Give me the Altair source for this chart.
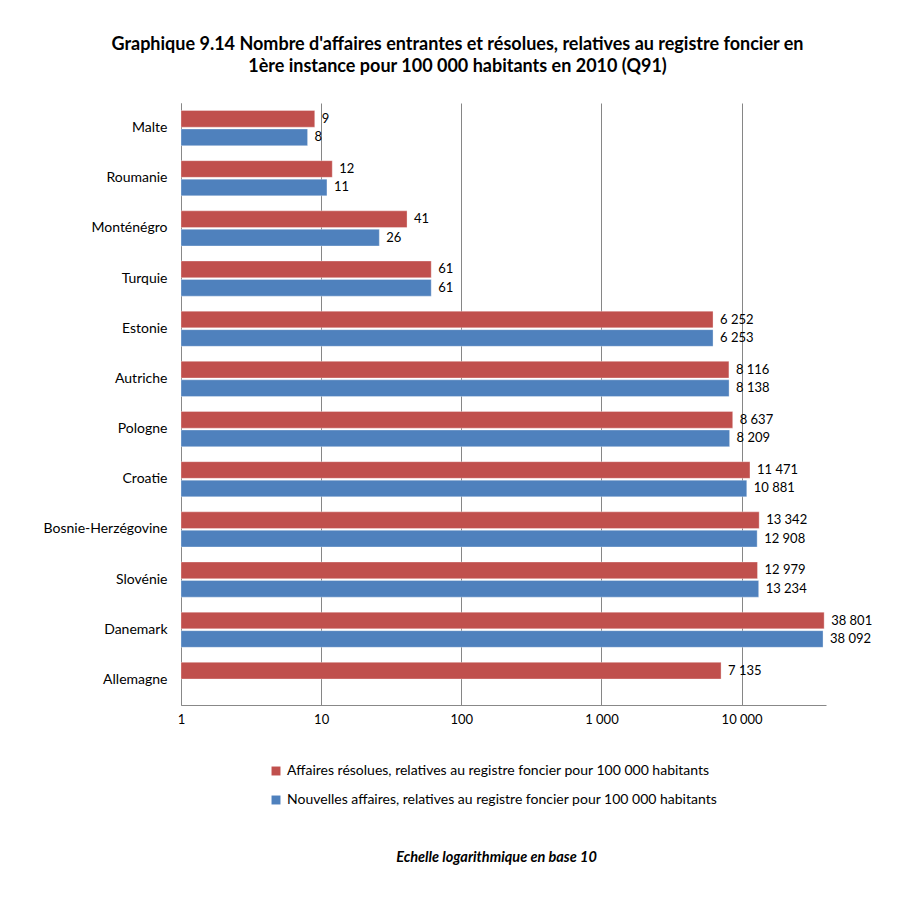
import altair as alt
import pandas as pd

countries = ["Malte", "Roumanie", "Monténégro", "Turquie", "Estonie", "Autriche",
             "Pologne", "Croatie", "Bosnie-Herzégovine", "Slovénie", "Danemark", "Allemagne"]
resolved = [9, 12, 41, 61, 6252, 8116, 8637, 11471, 13342, 12979, 38801, 7135]
new_cases = [8, 11, 26, 61, 6253, 8138, 8209, 10881, 12908, 13234, 38092, None]

s_res = "Affaires résolues, relatives au registre foncier pour 100 000 habitants"
s_new = "Nouvelles affaires, relatives au registre foncier pour 100 000 habitants"
series = [s_res, s_new]
colors = ["#C0504D", "#4F81BD"]
ticks = [1, 10, 100, 1000, 10000]

rows = []
for c, r, n in zip(countries, resolved, new_cases):
    rows.append({"pays": c, "serie": s_res, "valeur": r})
    if n is not None:
        rows.append({"pays": c, "serie": s_new, "valeur": n})
df = pd.DataFrame(rows)

FONT = "Lato"

y_enc = alt.Y("pays:N", sort=countries, title=None,
              scale=alt.Scale(paddingInner=0.3, paddingOuter=0.15),
              axis=alt.Axis(ticks=False, domain=True, domainColor="#888888",
                            labelFontSize=14, labelColor="#000000", labelPadding=14,
                            labelFont=FONT, grid=False))
yoff = alt.YOffset("serie:N", sort=series, scale=alt.Scale(domain=series, paddingInner=0.1))
x_scale = alt.Scale(type="log", domain=[1, 40000], nice=False)

base = alt.Chart(df)

bars = base.mark_bar(stroke="#ffffff", strokeOpacity=0.4, strokeWidth=0.8).encode(
    x=alt.X("valeur:Q", scale=x_scale,
            title="Echelle logarithmique en base 10",
            axis=alt.Axis(values=ticks, format=",d", ticks=False, grid=True,
                          gridColor="#868686", domainColor="#888888",
                          labelFontSize=13, labelColor="#000000", labelFont=FONT,
                          labelPadding=8, labelFlush=False,
                          titleFont=FONT, titleFontSize=14.5, titleFontStyle="italic",
                          titleFontWeight="bold", titleColor="#000000",
                          titlePadding=124, titleX=315)),
    x2=alt.X2(datum=1),
    y=y_enc,
    yOffset=yoff,
    color=alt.Color("serie:N", sort=series,
                    scale=alt.Scale(domain=series, range=colors),
                    legend=alt.Legend(title=None, orient="none", legendX=88, legendY=661,
                                      direction="vertical", symbolType="square",
                                      symbolSize=80, symbolStrokeWidth=0, symbolOpacity=1,
                                      labelFontSize=14, labelFont=FONT, labelColor="#000000",
                                      labelLimit=700, rowPadding=15, labelOffset=4)),
)

labels = base.mark_text(align="left", baseline="middle", dx=7, fontSize=13,
                        font=FONT, color="#000000").encode(
    x=alt.X("valeur:Q", scale=x_scale),
    y=alt.Y("pays:N", sort=countries),
    yOffset=yoff,
    text=alt.Text("valeur:Q", format=",d"),
)

chart = alt.layer(bars, labels).properties(
    width=645, height=602,
    title=alt.TitleParams(
        ["Graphique 9.14 Nombre d'affaires entrantes et résolues, relatives au registre foncier en",
         "1ère instance pour 100 000 habitants en 2010 (Q91)"],
        fontSize=18, font=FONT, fontWeight="bold", color="#000000",
        anchor="middle", lineHeight=22, offset=27, dx=-46),
    padding={"left": 35, "top": 28, "right": 10, "bottom": 10},
).configure(
    locale={"number": {"decimal": ",", "thousands": " ", "grouping": [3],
                       "currency": ["", " €"]}}
).configure_view(stroke=None)

chart.save("out.html", embed_options={"renderer": "svg", "actions": False})
